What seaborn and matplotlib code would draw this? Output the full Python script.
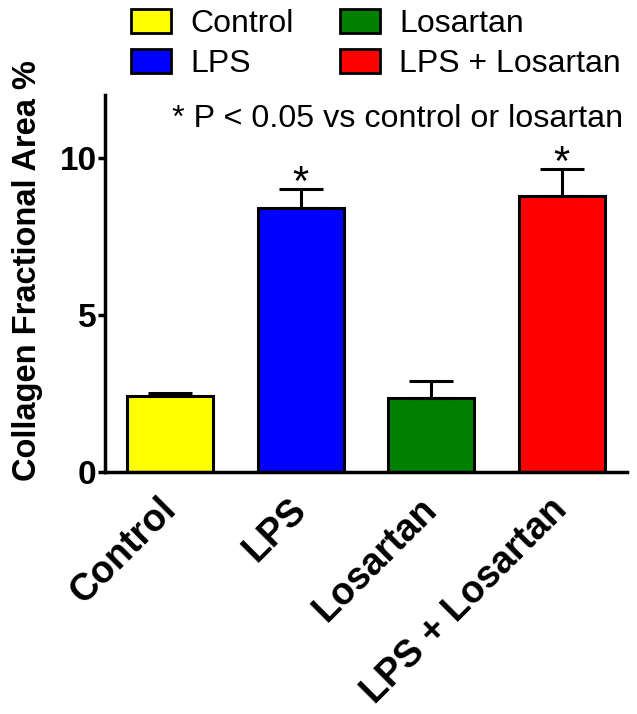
import matplotlib
matplotlib.use('Agg')
import matplotlib.pyplot as plt
import seaborn as sns
import numpy as np
import pandas as pd
from matplotlib.patches import Patch

# ! Data
groups = ['Control', 'LPS', 'Losartan', 'LPS + Losartan']
means = [2.43, 8.39, 2.35, 8.77]
sems = [0.07, 0.61, 0.56, 0.87]
signif = [False, True, False, True]
colors = ['#FFFF00', '#0000FF', '#008000', '#FF0000']

df = pd.DataFrame({'Group': groups, 'Area': means})

sns.set_style('white')
plt.rcParams['font.family'] = ['Liberation Sans', 'DejaVu Sans']
plt.rcParams['text.color'] = 'black'
plt.rcParams['xtick.color'] = 'black'
plt.rcParams['ytick.color'] = 'black'

fig = plt.figure(figsize=(6.37, 7.14), dpi=100)
ax = fig.add_axes([105 / 637, 1 - 472 / 714, 522 / 637, 377 / 714])

sns.barplot(data=df, x='Group', y='Area', hue='Group', palette=colors,
            order=groups, hue_order=groups, width=0.66, edgecolor='black',
            linewidth=2.2, saturation=1, legend=False, ax=ax)

# upper error bars only (SEM)
x = np.arange(len(groups))
ax.errorbar(x, means, yerr=[np.zeros(len(sems)), sems], fmt='none',
            ecolor='black', elinewidth=2.2, capsize=15.5, capthick=2.2, zorder=1)

# ! significance stars
for i, (m, s, sig) in enumerate(zip(means, sems, signif)):
    if sig:
        ax.annotate('*', xy=(i, m + s), xytext=(0, -4), textcoords='offset points',
                    ha='center', va='baseline', fontsize=30, color='black')

ax.set_ylim(0, 12)
ax.set_xlim(-0.5, 3.5)
ax.set_yticks([0, 5, 10])
ax.set_yticklabels(['0', '5', '10'], fontsize=24, fontweight='bold')
ax.set_xticks(x)
ax.set_xticklabels(groups, fontsize=27, fontweight='bold', rotation=45,
                   rotation_mode='anchor', ha='right', va='center')
ax.tick_params(axis='x', length=0, pad=23)
ax.tick_params(axis='y', length=5, width=2.5, direction='out', pad=1, left=True)
ax.set_xlabel('')
ax.set_ylabel('')
sns.despine(ax=ax)
for side in ['left', 'bottom']:
    ax.spines[side].set_linewidth(2.5)
    ax.spines[side].set_color('black')

fig.text(28 / 637, 1 - 271 / 714, 'Collagen Fractional Area %', rotation=90,
         ha='center', va='center', fontsize=23.5, fontweight='bold')

fig.text(172 / 637, 1 - 127 / 714, '* P < 0.05 vs control or losartan',
         ha='left', va='baseline', fontsize=23.2)

handles = [Patch(facecolor=c, edgecolor='black', linewidth=2) for c in colors]
fig.legend(handles, groups, ncol=2, loc='upper left',
           bbox_to_anchor=(131 / 637, 1 - 9 / 714), frameon=False, fontsize=23,
           handlelength=1.25, handleheight=0.8, handletextpad=0.6,
           columnspacing=1.45, labelspacing=0.3, borderpad=0, borderaxespad=0)

fig.savefig('out.png', dpi=100)
